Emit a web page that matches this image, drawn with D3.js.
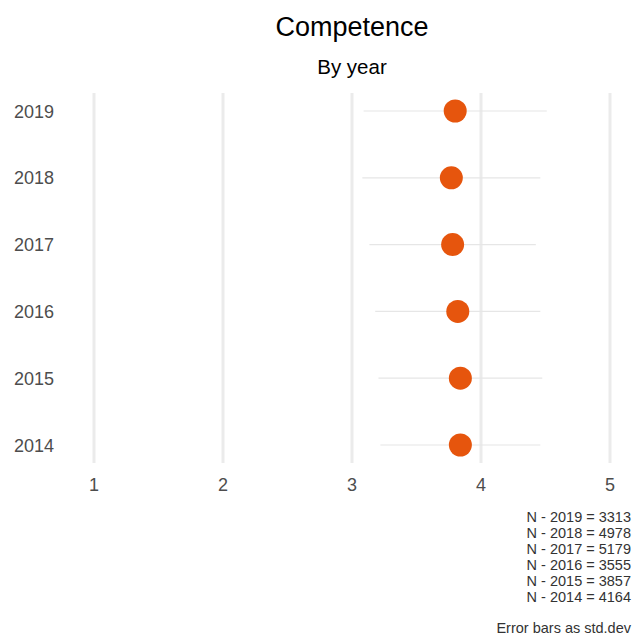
<!DOCTYPE html>
<html><head><meta charset="utf-8">
<script src="https://cdn.jsdelivr.net/npm/d3@7"></script>
<style>body{margin:0;background:#fff;} svg{display:block;font-family:"Liberation Sans",Arial,sans-serif;}</style>
</head><body>
<script>
const years = ["2014","2015","2016","2017","2018","2019"];
const means = [3.84, 3.84, 3.82, 3.78, 3.77, 3.80];
const sds   = [0.62, 0.635, 0.64, 0.645, 0.69, 0.71];
const ns    = [4164, 3857, 3555, 5179, 4978, 3313];
const xTicks = [1,2,3,4,5];
const title = "Competence";
const subtitle = "By year";
const caption = "Error bars as std.dev";

const W = 637, H = 637;
const svg = d3.select("body").append("svg").attr("width", W).attr("height", H);

const x = d3.scaleLinear().domain([1,5]).range([94,610]);
const y = d3.scalePoint().domain(years).range([445,111]);

// vertical grid
svg.append("g").selectAll("line").data(xTicks).join("line")
  .attr("x1", d=>x(d)).attr("x2", d=>x(d)).attr("y1", 93).attr("y2", 463)
  .attr("stroke", "#ebebeb").attr("stroke-width", 3);

// x tick labels
svg.append("g").selectAll("text").data(xTicks).join("text")
  .attr("x", d=>x(d)).attr("y", 491).attr("text-anchor","middle")
  .attr("font-size", 18).attr("fill", "#4d4d4d").text(d=>d);

// y labels
svg.append("g").selectAll("text").data(years).join("text")
  .attr("x", 54).attr("y", d=>y(d)+6.5).attr("text-anchor","end")
  .attr("font-size", 18).attr("fill", "#4d4d4d").text(d=>d);

const data = years.map((yr,i)=>({yr, m:means[i], s:sds[i]}));

// error bars
svg.append("g").selectAll("line").data(data).join("line")
  .attr("x1", d=>x(d.m-d.s)).attr("x2", d=>x(d.m+d.s))
  .attr("y1", d=>y(d.yr)).attr("y2", d=>y(d.yr))
  .attr("stroke", "#e6e6e6").attr("stroke-width", 1.2);

// points
svg.append("g").selectAll("circle").data(data).join("circle")
  .attr("cx", d=>x(d.m)).attr("cy", d=>y(d.yr)).attr("r", 11.5)
  .attr("fill", "#e6550d");

// titles
svg.append("text").attr("x", 352).attr("y", 36).attr("text-anchor","middle")
  .attr("font-size", 27).attr("fill","#000").text(title);
svg.append("text").attr("x", 352).attr("y", 74).attr("text-anchor","middle")
  .attr("font-size", 20.5).attr("fill","#000").text(subtitle);

// caption
const capLines = years.slice().reverse().map((yr)=>`N - ${yr} = ${ns[years.indexOf(yr)]}`);
const cap = svg.append("g");
cap.selectAll("text").data(capLines).join("text")
  .attr("x", 631).attr("y", (d,i)=>522 + i*16).attr("text-anchor","end")
  .attr("font-size", 14.5).attr("fill","#333").text(d=>d);
cap.append("text").attr("x", 631).attr("y", 633).attr("text-anchor","end")
  .attr("font-size", 14.5).attr("fill","#333").text(caption);
</script>
</body></html>
